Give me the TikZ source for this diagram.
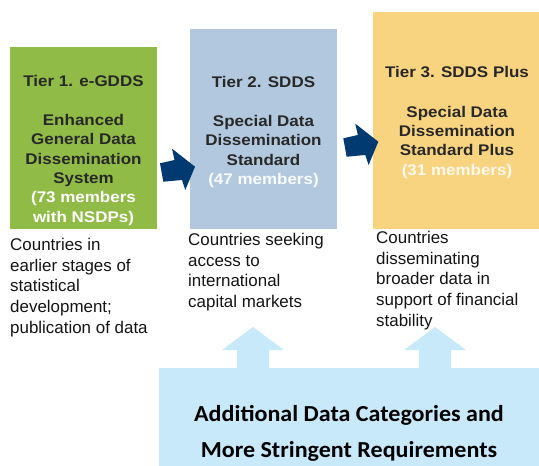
\documentclass[tikz,border=0pt]{standalone}
\usepackage{fontspec}
\setmainfont{Liberation Sans}
\newfontfamily\tierfont[FakeStretch=1.1]{Liberation Sans}
\newfontfamily\calibrifont[FakeStretch=1.05]{Carlito}
\definecolor{tiergreen}{RGB}{143,187,70}
\definecolor{tierblue}{RGB}{178,200,222}
\definecolor{tieryellow}{RGB}{248,212,128}
\definecolor{reqblue}{RGB}{200,233,250}
\definecolor{arrowblue}{RGB}{0,58,112}
\definecolor{tierink}{RGB}{40,40,40}
\definecolor{noteink}{RGB}{20,20,20}
\begin{document}
\begin{tikzpicture}[x=1bp,y=-1bp,
  tierbox/.style={draw=none, inner sep=0, anchor=north west},
  tiertext/.style={anchor=north, inner sep=0, align=center, text=tierink,
    font=\tierfont\bfseries\fontsize{15.5}{19.4}\selectfont},
  note/.style={anchor=north west, inner sep=0, align=left, text=noteink,
    font=\fontsize{17}{20.8}\selectfont},
  reqtext/.style={anchor=north, inner sep=0, align=center, text=black,
    font=\calibrifont\bfseries\fontsize{23}{36.5}\selectfont},
  pics/bentarrow/.style={code={
    \fill[arrowblue] (0,0) -- (14.5,-3.3) -- (12,-14.6) -- (35,3.4)
      -- (25.3,26.7) -- (22,16.7) -- (3.3,18.4) -- cycle;}},
  pics/uparrow/.style={code={
    \fill[reqblue] (-16,0.5) -- (-16,-18) -- (-31,-18) -- (0,-41)
      -- (31,-18) -- (16,-18) -- (16,0.5) -- cycle;}}
]
\useasboundingbox (0,0) rectangle (539,466);

% the three tiers
\node[tierbox, fill=tiergreen, minimum width=147bp, minimum height=182bp] (box1) at (10,47) {};
\node[tierbox, fill=tierblue, minimum width=147bp, minimum height=200bp] (box2) at (190,29) {};
\node[tierbox, fill=tieryellow, minimum width=166bp, minimum height=217bp] (box3) at (373,12) {};

\node[tiertext] (txt1) at (83.5,75.5) {Tier 1. e-GDDS\\[19.4pt]Enhanced\\General Data\\Dissemination\\System\\
  \textcolor{white}{(73 members}\\\textcolor{white}{with NSDPs)}};
\node[tiertext] (txt2) at (263.5,76.5) {Tier 2. SDDS\\[19.4pt]Special Data\\Dissemination\\Standard\\
  \textcolor{white!92!tierblue}{(47 members)}};
\node[tiertext] (txt3) at (457,66.5) {Tier 3. SDDS Plus\\[20pt]Special Data\\Dissemination\\Standard Plus\\
  \textcolor{white!85!tieryellow}{(31 members)}};

% arrows leading from one tier to the next
\pic at (160,163.3) {bentarrow};
\pic at (343.3,138.3) {bentarrow};

% descriptions under each tier
\node[note] (note1) at (10,238) {Countries in\\earlier stages of\\statistical\\development;\\publication of data};
\node[note] (note2) at (188,233) {Countries seeking\\access to\\international\\capital markets};
\node[note] (note3) at (376,231) {Countries\\disseminating\\broader data in\\support of financial\\stability};

% requirements panel with arrows pointing up to tiers 2 and 3
\node[tierbox, fill=reqblue, minimum width=380bp, minimum height=98bp] (req) at (159,368) {};
\pic at (253,368) {uparrow};
\pic at (435,368) {uparrow};
\node[reqtext] (reqlabel) at (349,405) {Additional Data Categories and\\More Stringent Requirements};
\end{tikzpicture}
\end{document}
